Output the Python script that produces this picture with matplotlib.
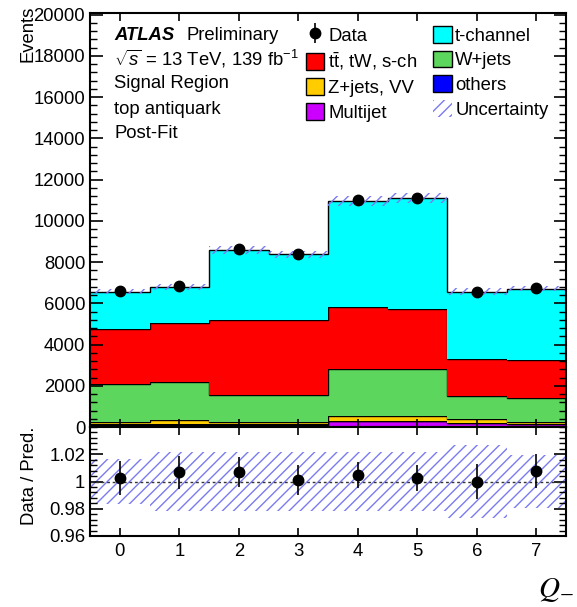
import matplotlib
matplotlib.use("Agg")
import matplotlib.pyplot as plt
import numpy as np
from matplotlib.patches import Patch
from matplotlib.lines import Line2D
from matplotlib.ticker import MultipleLocator, FuncFormatter

plt.rcParams['font.family'] = ['Liberation Sans', 'DejaVu Sans']
plt.rcParams['mathtext.fontset'] = 'custom'
plt.rcParams['mathtext.rm'] = 'Liberation Sans'
plt.rcParams['mathtext.it'] = 'Liberation Sans:italic'
plt.rcParams['hatch.linewidth'] = 1.0

# Q- bins and post-fit yields (stacked bottom -> top)
bins = [0, 1, 2, 3, 4, 5, 6, 7]
multijet = [120, 120, 120, 120, 280, 280, 170, 150]
others = [15, 15, 15, 15, 15, 15, 15, 15]
zjets_vv = [120, 220, 110, 110, 260, 260, 180, 100]
wjets = [1845, 1845, 1295, 1295, 2245, 2245, 1125, 1155]
ttbar = [2670, 2830, 3670, 3640, 3000, 2900, 1830, 1820]
tchannel = [1800, 1770, 3365, 3200, 5170, 5400, 3250, 3470]

data = [6585, 6845, 8635, 8390, 11025, 11125, 6570, 6760]
data_err = [82, 84, 94, 93, 105, 106, 82, 83]
# relative total uncertainty of the prediction
unc_rel = [0.0165, 0.0215, 0.0215, 0.0215, 0.0215, 0.0215, 0.027, 0.0195]

components = [
    (multijet, '#cc00ff', 'Multijet'),
    (others, '#0000ff', 'others'),
    (zjets_vv, '#ffcc00', 'Z+jets, VV'),
    (wjets, '#5cd65c', 'W+jets'),
    (ttbar, '#ff0000', r'$\mathrm{t\bar{t}}$, tW, s-ch'),
    (tchannel, '#00ffff', 't-channel'),
]
hatch_col = '#7b7bf0'

edges = np.arange(len(bins) + 1) - 0.5
x = np.array(bins)

fig = plt.figure(figsize=(5.77, 6.07), dpi=100)
W, H = 577.0, 607.0
ax = fig.add_axes([90 / W, 1 - 427 / H, 476 / W, 414 / H])
rax = fig.add_axes([90 / W, 1 - 536 / H, 476 / W, 109 / H])

bottom = np.zeros(len(bins))
for vals, col, lab in components:
    top = bottom + np.array(vals)
    ax.stairs(top, edges, baseline=bottom, fill=True, color=col, lw=0)
    ax.stairs(top, edges, baseline=None, color='black', lw=1.0)
    bottom = top
total = bottom

unc = total * np.array(unc_rel)
ax.stairs(total + unc, edges, baseline=total - unc, fill=True, facecolor='none',
          edgecolor=hatch_col, hatch='///', lw=0)
ax.errorbar(x, data, yerr=data_err, fmt='o', color='black', ms=7.5, elinewidth=1.2, capsize=0)

ax.set_xlim(-0.5, 7.5)
ax.set_ylim(0, 20080)
ax.yaxis.set_major_locator(MultipleLocator(2000))
ax.yaxis.set_minor_locator(MultipleLocator(400))
ax.xaxis.set_major_locator(MultipleLocator(1))
ax.tick_params(axis='both', which='both', direction='in', top=True, right=True, labelsize=13.3)
ax.tick_params(axis='y', which='major', length=9, width=1.2)
ax.tick_params(axis='y', which='minor', length=5, width=1.0)
ax.tick_params(axis='x', which='major', length=6, width=1.2, labelbottom=False)
for s in ax.spines.values():
    s.set_linewidth(1.5)

# ratio panel
ratio = np.array(data) / total
ratio_err = np.array(data_err) / total
rel = np.array(unc_rel)
rax.stairs(1 + rel, edges, baseline=1 - rel, fill=True, facecolor='none',
           edgecolor=hatch_col, hatch='///', lw=0)
rax.axhline(1.0, color='#333333', lw=1.0, ls=(0, (2, 2)))
rax.errorbar(x, ratio, yerr=ratio_err, fmt='o', color='black', ms=7.5, elinewidth=1.2, capsize=0)
rax.set_xlim(-0.5, 7.5)
rax.set_ylim(0.96, 1.04)
rax.set_yticks([0.96, 0.98, 1.0, 1.02])
rax.yaxis.set_minor_locator(MultipleLocator(0.004))
rax.yaxis.set_major_formatter(FuncFormatter(lambda v, p: f"{v:g}"))
rax.set_xticks(x)
rax.tick_params(axis='both', which='both', direction='in', top=True, right=True, labelsize=13.3)
rax.tick_params(axis='y', which='major', length=9, width=1.2)
rax.tick_params(axis='y', which='minor', length=5, width=1.0)
rax.tick_params(axis='x', which='major', length=6, width=1.2, pad=5)
for s in rax.spines.values():
    s.set_linewidth(1.5)

fig.text(28 / W, 1 - 6 / H, 'Events', rotation=90, ha='center', va='top', fontsize=13.3)
fig.text(30 / W, 1 - 476 / H, 'Data / Pred.', rotation=90, ha='center', va='center', fontsize=13.3)
fig.text(574 / W, 1 - 590 / H, r'$Q_{-}$', ha='right', va='center', fontsize=21,
         math_fontfamily='stix')

# labels in the upper-left corner
lx = 114 / W
fig.text(lx, 1 - 35 / H, 'ATLAS', fontsize=13.3, fontweight='bold', fontstyle='italic', va='center')
fig.text(187 / W, 1 - 35 / H, 'Preliminary', fontsize=13.3, va='center')
info = [r'$\sqrt{s}$ = 13 TeV, 139 fb$^{-1}$', 'Signal Region', 'top antiquark', 'Post-Fit']
for i, t in enumerate(info):
    fig.text(lx, 1 - (59 + 25 * i) / H, t, fontsize=13.3, va='center')

lookup = {lab: col for _, col, lab in components}
def box(lab):
    return Patch(facecolor=lookup[lab], edgecolor='black', lw=1.0)

data_handle = (Line2D([], [], marker='|', color='black', ms=15, mew=1.2, ls='none'),
               Line2D([], [], marker='o', color='black', ms=7.5, ls='none'))
handles = [
    data_handle,
    box(r'$\mathrm{t\bar{t}}$, tW, s-ch'),
    box('Z+jets, VV'),
    box('Multijet'),
    box('t-channel'),
    box('W+jets'),
    box('others'),
    Patch(facecolor='none', edgecolor=hatch_col, hatch='///', lw=0),
]
labels = ['Data', r'$\mathrm{t\bar{t}}$, tW, s-ch', 'Z+jets, VV', 'Multijet',
          't-channel', 'W+jets', 'others', 'Uncertainty']
leg = ax.legend(handles, labels, ncol=2, frameon=False, fontsize=13.3,
                loc='upper left', bbox_to_anchor=(306 / W, 1 - 26 / H),
                bbox_transform=fig.transFigure, handlelength=1.0, handleheight=1.0,
                handletextpad=0.2, columnspacing=0.85, labelspacing=0.33,
                borderaxespad=0, borderpad=0)

fig.savefig('out.png', dpi=100)
